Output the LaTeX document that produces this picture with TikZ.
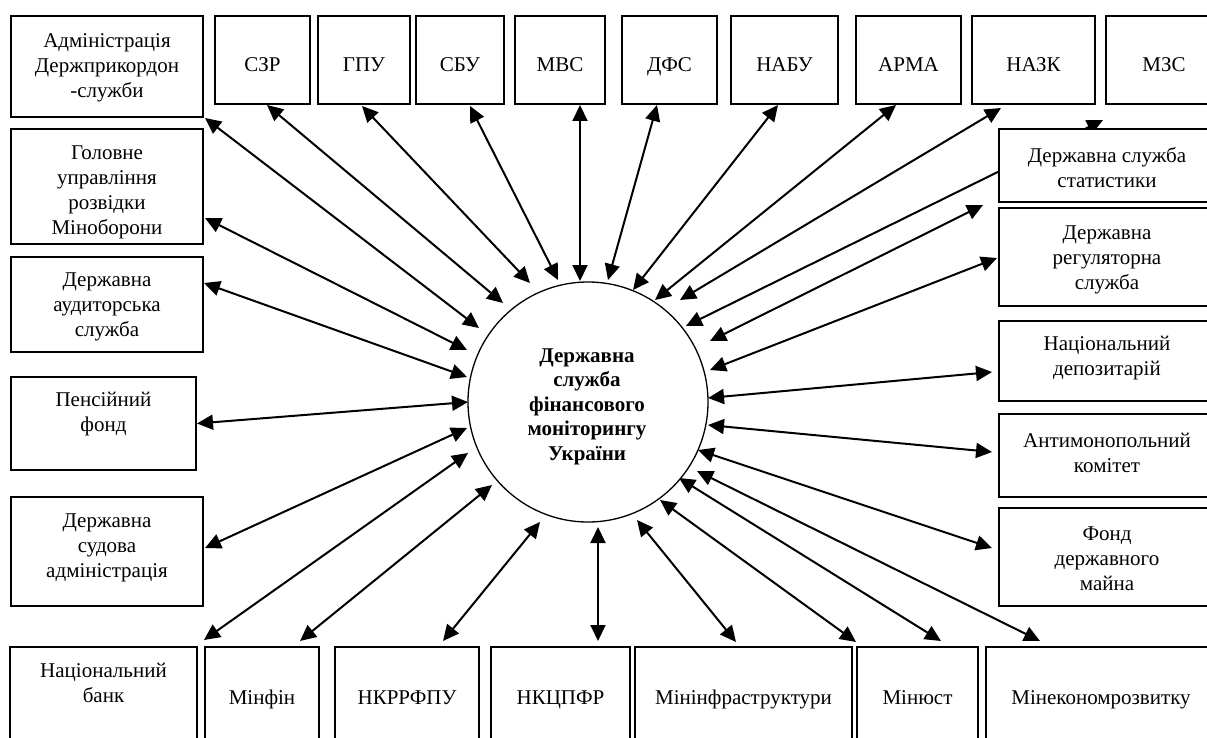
\documentclass[tikz,border=0pt]{standalone}
\usepackage{fontspec}
\setmainfont{Liberation Serif}
\usetikzlibrary{arrows.meta,calc}
\pgfdeclarelayer{bg}
\pgfsetlayers{bg,main}
\tikzset{
  box/.style={draw, line width=1.4pt, fill=white, inner sep=0pt, outer sep=0pt, rectangle},
  lbl/.style={font=\fontsize{21}{25}\selectfont, align=center, inner sep=0pt},
  one/.style={lbl, text height=14pt, text depth=0pt},
  biarrow/.style={line width=2pt, {Triangle[length=16pt,width=15pt]}-{Triangle[length=16pt,width=15pt]}},
}
\newcommand\mybox[5]{\node[box, minimum width={(#4-#2)*1pt}, minimum height={(#5-#3)*1pt}] (#1) at ({(#2+#4)/2},{(#3+#5)/2}) {};}
\newcommand\mytext[4]{\node[lbl] (#1) at (#2,#3) {#4};}
\newcommand\myone[4]{\node[one] (#1) at (#2,#3) {#4};}
\begin{document}
\begin{tikzpicture}[x=1pt,y=-1pt]
\useasboundingbox (0,0) rectangle (1207,738);
\clip (0,0) rectangle (1207,738);
% left column
\mybox{adm}{11}{16}{203}{117}
\mybox{gur}{11}{129}{203}{244}
\mybox{dau}{11}{257}{203}{352}
\mybox{pf}{11}{377}{196}{470}
\mybox{dsa}{11}{497}{203}{606}
% bottom row
\mybox{nbu}{10}{647}{197}{760}
\mybox{minfin}{205}{647}{319}{760}
\mybox{nkrr}{335}{647}{479}{760}
\mybox{nkc}{491}{647}{630}{760}
\mybox{mininf}{635}{647}{852}{760}
\mybox{minjust}{857}{647}{978}{760}
\mybox{minek}{986}{647}{1216}{760}
% top row
\mybox{szr}{215}{16}{310}{104}
\mybox{gpu}{318}{16}{410}{104}
\mybox{sbu}{416}{16}{504}{104}
\mybox{mvs}{515}{16}{605}{104}
\mybox{dfs}{622}{16}{717}{104}
\mybox{nabu}{731}{16}{838}{104}
\mybox{arma}{856}{16}{961}{104}
\mybox{nazk}{972}{16}{1095}{104}
\mybox{mzs}{1106}{16}{1222}{104}
% right column
\mybox{stat}{999}{129}{1215}{202}
\mybox{reg}{999}{208}{1215}{306}
\mybox{dep}{999}{321}{1215}{401}
\mybox{amk}{999}{414}{1215}{497}
\mybox{fdm}{999}{508}{1215}{606}
% centre
\node[circle, draw, line width=1.3pt, fill=white, minimum size=240pt, inner sep=0pt] (c) at (588,402) {};
\node[lbl, font=\fontsize{21}{24.5}\selectfont\bfseries] (c-t) at (587,406.5)
      {Державна\\служба\\фінансового\\моніторингу\\України};
% texts
\mytext{adm-t}{107}{67.5}{Адміністрація\\Держприкордон\\-служби}
\mytext{gur-t}{107}{192.5}{Головне\\управління\\розвідки\\Міноборони}
\mytext{dau-t}{107}{306.5}{Державна\\аудиторська\\служба}
\mytext{pf-t}{103.5}{414.5}{Пенсійний\\фонд}
\mytext{dsa-t}{107}{547.5}{Державна\\судова\\адміністрація}
\mytext{nbu-t}{103.5}{683}{Національний\\банк}
\myone{minfin-t}{262}{697}{Мінфін}
\myone{nkrr-t}{407}{697}{НКРРФПУ}
\myone{nkc-t}{560.5}{697}{НКЦПФР}
\myone{mininf-t}{743.5}{697}{Мінінфраструктури}
\myone{minjust-t}{917.5}{697}{Мінюст}
\myone{minek-t}{1101}{697}{Мінекономрозвитку}
\myone{szr-t}{262.5}{65}{СЗР}
\myone{gpu-t}{364}{65}{ГПУ}
\myone{sbu-t}{460}{65}{СБУ}
\myone{mvs-t}{560}{65}{МВС}
\myone{dfs-t}{669.5}{65}{ДФС}
\myone{nabu-t}{784.5}{65}{НАБУ}
\myone{arma-t}{908.5}{65}{АРМА}
\myone{nazk-t}{1033.5}{65}{НАЗК}
\myone{mzs-t}{1164}{65}{МЗС}
\mytext{stat-t}{1107}{167.5}{Державна служба\\статистики}
\mytext{reg-t}{1107}{259.5}{Державна\\регуляторна\\служба}
\mytext{dep-t}{1107}{358.5}{Національний\\депозитарій}
\mytext{amk-t}{1107}{452.5}{Антимонопольний\\комітет}
\mytext{fdm-t}{1107}{558.5}{Фонд\\державного\\майна}
% connectors
\begin{pgfonlayer}{bg}
\draw[biarrow] ($(adm.south east)+(2,1)$) -- (479,328) coordinate (e-adm);
\draw[biarrow] ($(gur.north east)+(2,89)$) -- (467,350) coordinate (e-gur);
\draw[biarrow] ($(dau.north east)+(1,26)$) -- (467,377) coordinate (e-dau);
\draw[biarrow] ($(pf.east)+(1,0)$) -- (468,402) coordinate (e-pf);
\draw[biarrow] ($(dsa.east)+(2,-3.5)$) -- (467,428) coordinate (e-dsa);
\draw[biarrow] ($(nbu.north east)+(7,-7)$) -- (468,453) coordinate (e-nbu);
\draw[biarrow] ($(minfin.north west)+(95,-6)$) -- (492,485) coordinate (e-minfin);
\draw[biarrow] ($(nkrr.north west)+(108,-6)$) -- (540,522) coordinate (e-nkrr);
\draw[biarrow] ($(nkc.north west)+(107,-6)$) -- (598,527) coordinate (e-nkc);
\draw[biarrow] ($(mininf.north west)+(101,-5)$) -- (637,520) coordinate (e-mininf);
\draw[biarrow] ($(mininf.north east)+(4,-5)$) -- (660,500) coordinate (e-mininf2);
\draw[biarrow] ($(minjust.north west)+(84,-6)$) -- (679,478) coordinate (e-minjust);
\draw[biarrow] ($(minek.north west)+(54,-6)$) -- (697,471) coordinate (e-minek);
\draw[biarrow] ($(fdm.west)+(-7,-9)$) -- (698,450) coordinate (e-fdm);
\draw[biarrow] ($(amk.west)+(-7,-3.5)$) -- (708,425) coordinate (e-amk);
\draw[biarrow] ($(dep.west)+(-7,11)$) -- (708,398) coordinate (e-dep);
\draw[biarrow] ($(reg.west)+(-2,1)$) -- (710,370) coordinate (e-reg);
\draw[biarrow] ($(stat.south west)+(-16,3)$) -- (710,341) coordinate (e-stat);
\draw[biarrow] ($(mzs.south west)+(-3,16)$) -- (686,326) coordinate (e-mzs);
\draw[biarrow] ($(nazk.south west)+(29,4)$) -- (680,300) coordinate (e-nazk);
\draw[biarrow] ($(arma.south west)+(40,1)$) -- (655,300) coordinate (e-arma);
\draw[biarrow] ($(nabu.south west)+(47,1)$) -- (633,290) coordinate (e-nabu);
\draw[biarrow] ($(dfs.south west)+(35,1)$) -- (608,280) coordinate (e-dfs);
\draw[biarrow] ($(mvs.south west)+(65,1)$) -- (580,281) coordinate (e-mvs);
\draw[biarrow] ($(sbu.south west)+(54,2)$) -- (558,280) coordinate (e-sbu);
\draw[biarrow] ($(gpu.south west)+(44,2)$) -- (530,283) coordinate (e-gpu);
\draw[biarrow] ($(szr.south west)+(52,1)$) -- (503,303) coordinate (e-szr);
\end{pgfonlayer}
\end{tikzpicture}
\end{document}
